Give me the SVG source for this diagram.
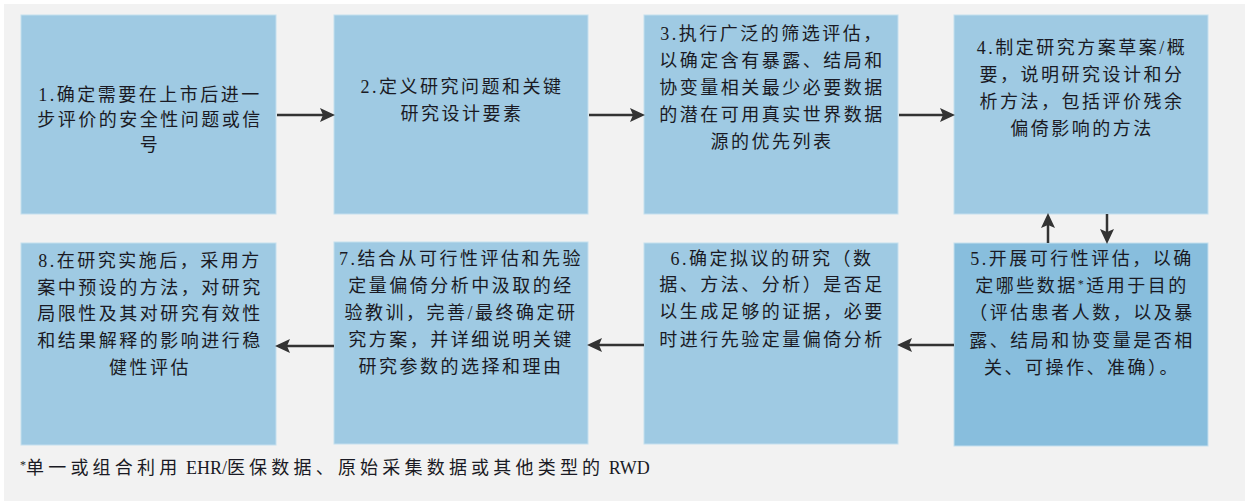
<svg xmlns="http://www.w3.org/2000/svg" width="1245" height="501" viewBox="0 0 1245 501">
<style>
.bg{fill:#f2f2f2}
.box{fill:#9fcae3;stroke:#c4dfee;stroke-width:1}
.box5{fill:#88bedd;stroke:#c4dfee;stroke-width:1}
.t{font-family:"Liberation Serif","Noto Sans CJK SC",serif;font-size:18px;fill:#1a1a24;text-anchor:middle;letter-spacing:2.5px}
.fn{font-family:"Liberation Serif","Noto Sans CJK SC",serif;font-size:18px;fill:#1a1a24;letter-spacing:4.2px}
.lat{letter-spacing:0px}
.sup{font-size:12px}
.conn path{fill:none;stroke:#333333;stroke-width:2.5}
</style>
<defs>
<marker id="ah" viewBox="0 0 15 14" refX="6" refY="7" markerWidth="15" markerHeight="14" markerUnits="userSpaceOnUse" orient="auto">
<path d="M0,0 L15,7 L0,14 L3,7 z" fill="#333333"/>
</marker>
</defs>
<rect class="bg" x="4" y="4" width="1241" height="497"/>

<g id="node1">
<rect class="box" x="21" y="15" width="255" height="199"/>
<text class="t"><tspan x="150" y="101">1.确定需要在上市后进一</tspan><tspan x="150" y="126">步评价的安全性问题或信</tspan><tspan x="150" y="151">号</tspan></text>
</g>
<g id="node2">
<rect class="box" x="334" y="15" width="254" height="199"/>
<text class="t"><tspan x="462" y="93">2.定义研究问题和关键</tspan><tspan x="462" y="120">研究设计要素</tspan></text>
</g>
<g id="node3">
<rect class="box" x="644" y="15" width="254" height="199"/>
<text class="t"><tspan x="772" y="40">3.执行广泛的筛选评估，</tspan><tspan x="772" y="67">以确定含有暴露、结局和</tspan><tspan x="772" y="94">协变量相关最少必要数据</tspan><tspan x="772" y="121">的潜在可用真实世界数据</tspan><tspan x="772" y="148">源的优先列表</tspan></text>
</g>
<g id="node4">
<rect class="box" x="954" y="15" width="254" height="199"/>
<text class="t"><tspan x="1082" y="54">4.制定研究方案草案/概</tspan><tspan x="1082" y="81">要，说明研究设计和分</tspan><tspan x="1082" y="108">析方法，包括评价残余</tspan><tspan x="1082" y="135">偏倚影响的方法</tspan></text>
</g>
<g id="node5">
<rect class="box5" x="954" y="243" width="254" height="203"/>
<text class="t"><tspan x="1082" y="265">5.开展可行性评估，以确</tspan><tspan x="1082" y="292">定哪些数据<tspan class="sup" dy="-4">*</tspan><tspan dy="4">适用于目的</tspan></tspan><tspan x="1082" y="319">（评估患者人数，以及暴</tspan><tspan x="1082" y="347">露、结局和协变量是否相</tspan><tspan x="1082" y="374">关、可操作、准确）。</tspan></text>
</g>
<g id="node6">
<rect class="box" x="644" y="243" width="254" height="201"/>
<text class="t"><tspan x="772" y="265">6.确定拟议的研究（数</tspan><tspan x="772" y="291">据、方法、分析）是否足</tspan><tspan x="772" y="318">以生成足够的证据，必要</tspan><tspan x="772" y="346">时进行先验定量偏倚分析</tspan></text>
</g>
<g id="node7">
<rect class="box" x="334" y="242" width="254" height="202"/>
<text class="t"><tspan x="461" y="265">7.结合从可行性评估和先验</tspan><tspan x="461" y="292">定量偏倚分析中汲取的经</tspan><tspan x="461" y="319">验教训，完善/最终确定研</tspan><tspan x="461" y="346">究方案，并详细说明关键</tspan><tspan x="461" y="373">研究参数的选择和理由</tspan></text>
</g>
<g id="node8">
<rect class="box" x="21" y="243" width="255" height="202"/>
<text class="t"><tspan x="150" y="267">8.在研究实施后，采用方</tspan><tspan x="150" y="294">案中预设的方法，对研究</tspan><tspan x="150" y="320">局限性及其对研究有效性</tspan><tspan x="150" y="347">和结果解释的影响进行稳</tspan><tspan x="150" y="374">健性评估</tspan></text>
</g>

<g id="connectors" class="conn">
<path d="M277,115 H326" marker-end="url(#ah)"/>
<path d="M589,115 H636" marker-end="url(#ah)"/>
<path d="M899,115 H946" marker-end="url(#ah)"/>
<path d="M1048,243 V222" marker-end="url(#ah)"/>
<path d="M1107,214 V235" marker-end="url(#ah)"/>
<path d="M954,345 H906" marker-end="url(#ah)"/>
<path d="M644,345 H596" marker-end="url(#ah)"/>
<path d="M334,346 H284" marker-end="url(#ah)"/>
</g>

<g id="footnote">
<text class="fn" x="20" y="474"><tspan class="sup lat" dy="-5">*</tspan><tspan dy="5">单一或组合利用</tspan><tspan class="lat"> EHR/</tspan><tspan>医保数据、原始采集数据或其他类型的</tspan><tspan class="lat"> RWD</tspan></text>
</g>
</svg>
